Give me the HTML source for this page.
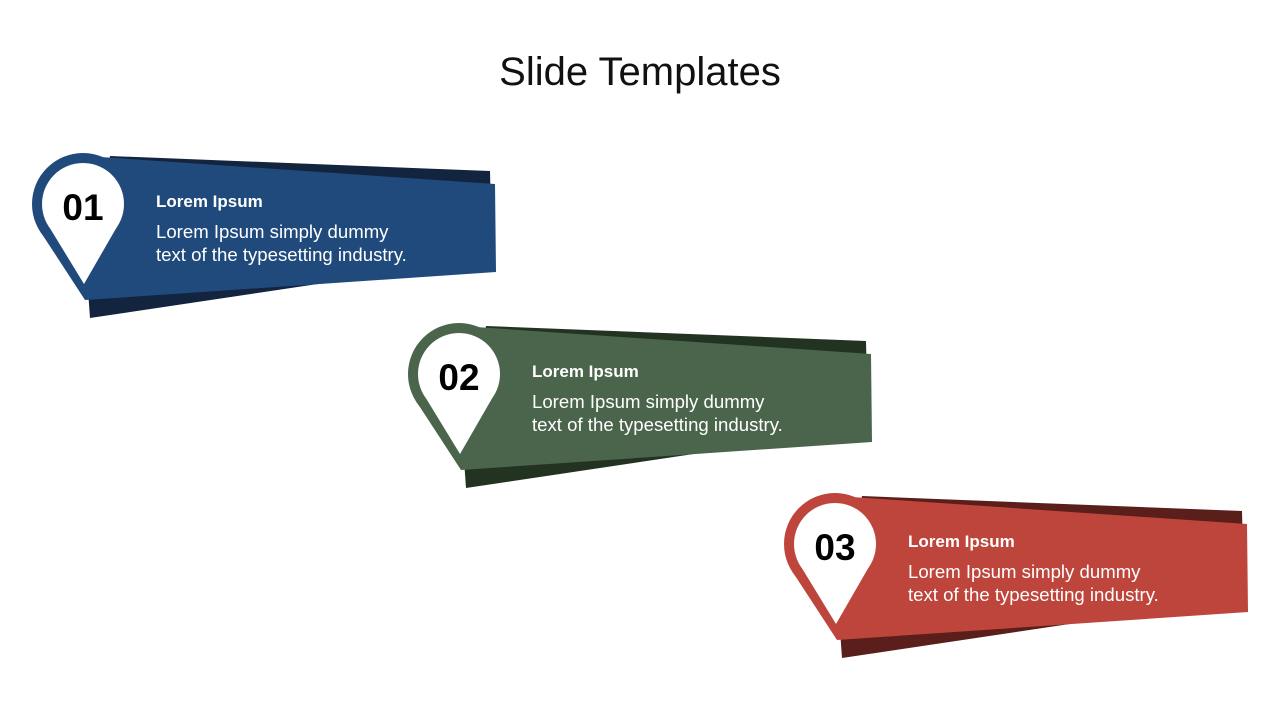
<!DOCTYPE html>
<html><head><meta charset="utf-8"><style>
html,body{margin:0;padding:0;background:#fff;}
svg{display:block;font-family:"Liberation Sans",sans-serif;}
</style></head><body>
<svg width="1280" height="720" viewBox="0 0 1280 720">
<text x="640" y="85" text-anchor="middle" font-size="40" fill="#111">Slide Templates</text>
<g>
<polygon points="110,156 490,171 492,258 90,318 88,290" fill="#13243f"/>
<polygon points="85,156 495,184 496,272 85,300" fill="#214a7c"/>
<circle cx="83" cy="204" r="51" fill="#214a7c"/><polygon points="40,231 126,231 85,300" fill="#214a7c"/>
<circle cx="83" cy="204" r="41" fill="#fff"/><polygon points="48,225 118,225 84,284" fill="#fff"/>
<text x="83" y="220" text-anchor="middle" font-size="37" font-weight="bold" fill="#000">01</text>
<text x="156" y="207" font-size="17" font-weight="bold" fill="#fff">Lorem Ipsum</text>
<text x="156" y="238" font-size="18.6" fill="#fff">Lorem Ipsum simply dummy</text>
<text x="156" y="261" font-size="18.6" fill="#fff">text of the typesetting industry.</text>
</g>
<g transform="translate(376,170)">
<polygon points="110,156 490,171 492,258 90,318 88,290" fill="#233322"/>
<polygon points="85,156 495,184 496,272 85,300" fill="#4a654b"/>
<circle cx="83" cy="204" r="51" fill="#4a654b"/><polygon points="40,231 126,231 85,300" fill="#4a654b"/>
<circle cx="83" cy="204" r="41" fill="#fff"/><polygon points="48,225 118,225 84,284" fill="#fff"/>
<text x="83" y="220" text-anchor="middle" font-size="37" font-weight="bold" fill="#000">02</text>
<text x="156" y="207" font-size="17" font-weight="bold" fill="#fff">Lorem Ipsum</text>
<text x="156" y="238" font-size="18.6" fill="#fff">Lorem Ipsum simply dummy</text>
<text x="156" y="261" font-size="18.6" fill="#fff">text of the typesetting industry.</text>
</g>
<g transform="translate(752,340)">
<polygon points="110,156 490,171 492,258 90,318 88,290" fill="#5a1f1a"/>
<polygon points="85,156 495,184 496,272 85,300" fill="#be453b"/>
<circle cx="83" cy="204" r="51" fill="#be453b"/><polygon points="40,231 126,231 85,300" fill="#be453b"/>
<circle cx="83" cy="204" r="41" fill="#fff"/><polygon points="48,225 118,225 84,284" fill="#fff"/>
<text x="83" y="220" text-anchor="middle" font-size="37" font-weight="bold" fill="#000">03</text>
<text x="156" y="207" font-size="17" font-weight="bold" fill="#fff">Lorem Ipsum</text>
<text x="156" y="238" font-size="18.6" fill="#fff">Lorem Ipsum simply dummy</text>
<text x="156" y="261" font-size="18.6" fill="#fff">text of the typesetting industry.</text>
</g>
</svg>
</body></html>
